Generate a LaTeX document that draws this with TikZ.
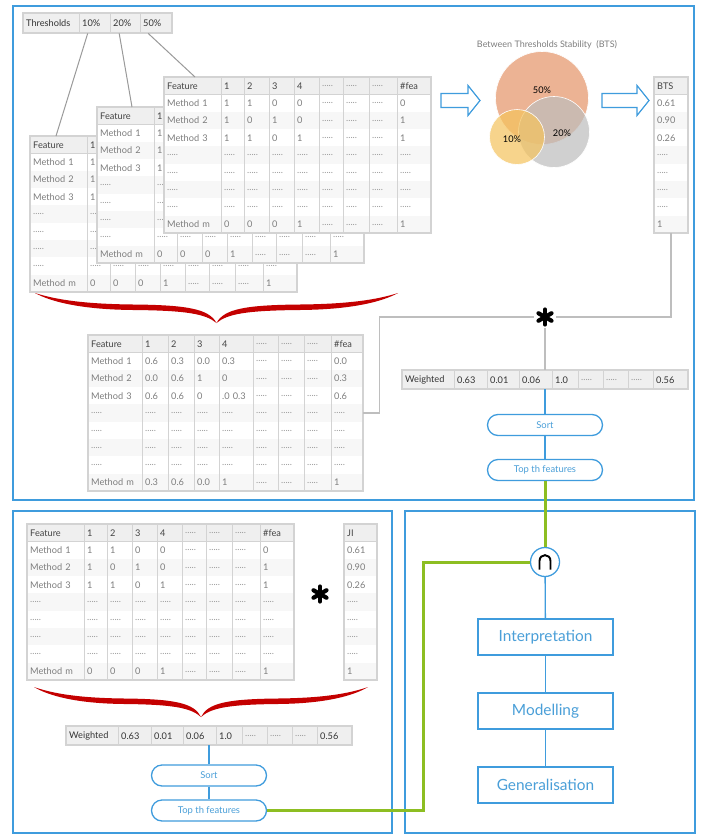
\documentclass[tikz,border=0pt]{standalone}
\usepackage{fontspec}
\setmainfont{Lato}
\usetikzlibrary{calc}
\definecolor{frameblue}{HTML}{3F9CDD}
\definecolor{txtblue}{HTML}{4A9FD8}
\definecolor{gridc}{HTML}{D3D3D3}
\definecolor{hdrfill}{HTML}{EFEFEF}
\definecolor{altfill}{HTML}{F7F7F7}
\definecolor{hdrtext}{HTML}{444444}
\definecolor{bodytext}{HTML}{7E7E7E}
\definecolor{rowtext}{HTML}{333333}
\definecolor{dotgray}{HTML}{9A9A9A}
\definecolor{linkgray}{HTML}{BEBEBE}
\definecolor{thrgray}{HTML}{9A9A9A}
\definecolor{grn}{HTML}{8DBE22}
\definecolor{bracered}{HTML}{C40000}
\definecolor{venno}{HTML}{E8A07A}
\definecolor{venng}{HTML}{BDBDBD}
\definecolor{venny}{HTML}{F5C35C}
\def\rowh{17.33}
\newcommand\mytabfont{\fontsize{9.2}{10}\selectfont}
\protected\def\mydots{{\color{dotgray}.....}}

% table with header row + body rows; #8 = 1 if cells in rows 1-7, cols >= 3 are hidden by a table drawn over it
\newcommand\mktable[8]{%
  \pgfmathsetmacro\tw{{#4}[#5]}%
  \pgfmathsetmacro\tht{#6*\rowh}%
  \node[anchor=north west, fill=white, inner sep=0pt, outer sep=0pt, minimum width=\tw pt, minimum height=\tht pt] (#1) at (#2,#3) {};
  \fill[hdrfill] (#1.north west) rectangle ++(\tw,\rowh);
  \foreach \r in {3,5,...,#6} {\fill[altfill] ($(#1.north west)+(0,{(\r-1)*\rowh})$) rectangle ++(\tw,\rowh);}
  \pgfmathtruncatemacro\tlast{#5-1}%
  \ifnum\tlast>0
    \foreach \c in {1,...,\tlast} {\pgfmathsetmacro\xc{{#4}[\c]}\draw[gridc, line width=1pt] ($(#1.north west)+(\xc,0)$) -- ++(0,\tht);}
  \fi
  \draw[gridc, line width=1pt] ($(#1.north west)+(0,\rowh)$) -- ++(\tw,0);
  \draw[gridc, line width=1.2pt] (#1.north west) rectangle (#1.south east);
  \foreach \row [count=\ri] in {#7} {
    \foreach \cell [count=\ci] in \row {
      \pgfmathsetmacro\xa{{#4}[\ci-1]}%
      \pgfmathsetmacro\xb{{#4}[\ci]}%
      \pgfmathsetmacro\cw{\xb-\xa-6}%
      \ifnum\ri=1 \def\tc{hdrtext}\else\def\tc{bodytext}\fi
      \def\showcell{1}%
      \ifnum#8=1 \ifnum\ri<8 \ifnum\ci>2 \def\showcell{0}\fi\fi\fi
      \ifnum\showcell=1
        \node[cell, text=\tc, text width=\cw pt] (#1-\ri-\ci) at ($(#1.north west)+({\xa},{(\ri-1)*\rowh})$) {\cell};
      \fi
    }
  }
}
% single row
\newcommand\mkrow[7]{%
  \pgfmathsetmacro\tw{{#4}[#5]}%
  \node[anchor=north west, fill=hdrfill, inner sep=0pt, outer sep=0pt, minimum width=\tw pt, minimum height=#6pt] (#1) at (#2,#3) {};
  \pgfmathtruncatemacro\tlast{#5-1}%
  \foreach \c in {1,...,\tlast} {\pgfmathsetmacro\xc{{#4}[\c]}\draw[gridc, line width=1pt] ($(#1.north west)+(\xc,0)$) -- ++(0,#6);}
  \draw[gridc, line width=1.2pt] (#1.north west) rectangle (#1.south east);
  \foreach \cell [count=\ci] in {#7} {
    \pgfmathsetmacro\xa{{#4}[\ci-1]}%
    \pgfmathsetmacro\xb{{#4}[\ci]}%
    \pgfmathsetmacro\cw{\xb-\xa-6}%
    \node[cell, minimum height=#6pt, text=rowtext, text width=\cw pt] (#1-\ci) at ($(#1.north west)+({\xa},0)$) {\cell};
  }
}
\newcommand\bintable[4]{%
  \mktable{#1}{#2}{#3}{0,57,80,105,130,155,179,205,233,267}{9}{9}{%
    {Feature,1,2,3,4,\mydots,\mydots,\mydots,\#fea},
    {Method 1,1,1,0,0,\mydots,\mydots,\mydots,0},
    {Method 2,1,0,1,0,\mydots,\mydots,\mydots,1},
    {Method 3,1,1,0,1,\mydots,\mydots,\mydots,1},
    {\mydots,\mydots,\mydots,\mydots,\mydots,\mydots,\mydots,\mydots,\mydots},
    {\mydots,\mydots,\mydots,\mydots,\mydots,\mydots,\mydots,\mydots,\mydots},
    {\mydots,\mydots,\mydots,\mydots,\mydots,\mydots,\mydots,\mydots,\mydots},
    {\mydots,\mydots,\mydots,\mydots,\mydots,\mydots,\mydots,\mydots,\mydots},
    {Method m,0,0,0,1,\mydots,\mydots,\mydots,1}}{#4}}
\newcommand\scoretable[5]{%
  \mktable{#1}{#2}{#3}{0,#4}{1}{9}{{#5},{0.61},{0.90},{0.26},{\mydots},{\mydots},{\mydots},{\mydots},{1}}{0}}
\newcommand\redbrace[3]{%
  \pgfmathsetmacro\bw{#2-#1}%
  \begin{scope}[shift={(#1,#3)}, x=\bw pt]
    \fill[bracered] (0,0) .. controls (0.06,7) and (0.14,11) .. (0.27,11.5)
      .. controls (0.42,12) and (0.48,16) .. (0.5,30)
      .. controls (0.47,21) and (0.42,17.5) .. (0.27,17)
      .. controls (0.12,16.5) and (0.04,8) .. (0,0) -- cycle;
    \fill[bracered] (1,0) .. controls (0.94,7) and (0.86,11) .. (0.73,11.5)
      .. controls (0.58,12) and (0.52,16) .. (0.5,30)
      .. controls (0.53,21) and (0.58,17.5) .. (0.73,17)
      .. controls (0.88,16.5) and (0.96,8) .. (1,0) -- cycle;
  \end{scope}}
\newcommand\astdraw[1]{%
  \foreach \a in {90,30,150} {\draw[black, line width=4.2pt, line cap=round] ($(#1)+(\a:7.5)$) -- ($(#1)+(\a+180:7.5)$);}}
\newcommand\blockarrow[3]{%
  \draw[frameblue, line width=1.2pt, fill=white] (#1,#3-7) -- (#2-12,#3-7) -- (#2-12,#3-15) -- (#2,#3) -- (#2-12,#3+15) -- (#2-12,#3+7) -- (#1,#3+7) -- cycle;}

\begin{document}
\begin{tikzpicture}[x=1pt,y=-1pt,
  cell/.style={anchor=north west, inner xsep=3pt, inner ysep=0pt, minimum height=\rowh pt, align=left, font=\mytabfont},
  frame/.style={draw=frameblue, line width=1.5pt},
  pill/.style={draw=frameblue, line width=1.3pt, fill=white, rounded corners=10.5pt, minimum width=115pt, minimum height=21pt, inner sep=0pt, text=txtblue, font=\fontsize{9.4}{10}\selectfont},
  stagebox/.style={draw=frameblue, line width=1.2pt, fill=white, minimum width=135pt, minimum height=36pt, inner sep=0pt, text=txtblue, font=\fontsize{15.4}{17}\selectfont},
  blueline/.style={draw=frameblue, line width=1.3pt},
  greenline/.style={draw=grn, line width=3pt},
  graylink/.style={draw=linkgray, line width=1.4pt},
  thrline/.style={draw=thrgray, line width=1pt},
  vlab/.style={font=\fontsize{9.2}{10}\selectfont, text=black, inner sep=0pt},
  astnode/.style={circle, minimum size=22pt, inner sep=0pt}]
\useasboundingbox (0,0) rectangle (703,835);
\fill[white] (0,0) rectangle (703,835);

% frames
\draw[frame] (13,6) rectangle (694,500);
\draw[frame] (13,511) rectangle (392,833);
\draw[frame] (405,511) rectangle (695,833);

% thresholds
\mkrow{thr}{23}{13}{0,56,87,117,149}{4}{20}{Thresholds,10\%,20\%,50\%}

% stacked tables
\bintable{tA}{30}{136}{1}
\bintable{tB}{97}{107}{1}
\bintable{tC}{164}{77}{0}

\coordinate (aIn) at (56,136);
\coordinate (bIn) at (132,107);
\coordinate (cIn) at (195,77);
\draw[thrline] ($(thr-2.south)+(-7,0)$) -- (aIn);
\draw[thrline] ($(thr-3.south)+(-6,0)$) -- (bIn);
\draw[thrline] ($(thr-4.south)+(-8,0)$) -- (cIn);

% arrows and venn
\blockarrow{441}{480}{100.5}
\blockarrow{602}{649}{100.5}
\node[font=\fontsize{9}{10}\selectfont, text=bodytext] (vtitle) at (547,45) {Between Thresholds Stability\ \ (BTS)};
\fill[venno, fill opacity=0.8, draw=white, line width=0.6pt] (542,98) circle (46.5);
\fill[venng, fill opacity=0.7, draw=white, line width=0.6pt] (554,132) circle (35.5);
\fill[venny, fill opacity=0.7, draw=white, line width=0.6pt] (517,137) circle (27.5);
\node[vlab] (v50) at (542,90) {50\%};
\node[vlab] (v20) at (562,133) {20\%};
\node[vlab] (v10) at (512,139) {10\%};

\scoretable{tBTS}{654}{77}{34}{BTS}

% brace and weighted table
\redbrace{35}{398}{293}
\mktable{tD}{88}{335}{0,54,80,106,131,165,190,216,243,275}{9}{9}{%
    {Feature,1,2,3,4,\mydots,\mydots,\mydots,\#fea},
    {Method 1,0.6,0.3,0.0,0.3,\mydots,\mydots,\mydots,0.0},
    {Method 2,0.0,0.6,1,0,\mydots,\mydots,\mydots,0.3},
    {Method 3,0.6,0.6,0,.0 0.3,\mydots,\mydots,\mydots,0.6},
    {\mydots,\mydots,\mydots,\mydots,\mydots,\mydots,\mydots,\mydots,\mydots},
    {\mydots,\mydots,\mydots,\mydots,\mydots,\mydots,\mydots,\mydots,\mydots},
    {\mydots,\mydots,\mydots,\mydots,\mydots,\mydots,\mydots,\mydots,\mydots},
    {\mydots,\mydots,\mydots,\mydots,\mydots,\mydots,\mydots,\mydots,\mydots},
    {Method m,0.3,0.6,0.0,1,\mydots,\mydots,\mydots,1}}{0}

% top right flow
\node[astnode] (ast1) at (545,317) {};
\astdraw{ast1}
\mkrow{W1}{402}{370}{0,52,85,117,150,176,201,226,251,286}{9}{19}{Weighted,0.63,0.01,0.06,1.0,\mydots,\mydots,\mydots,0.56}
\draw[graylink] (tD-5-9.east) -- ++(16,0) |- (ast1);
\draw[graylink] (tBTS.south) |- (ast1);
\draw[graylink] (ast1) -- (W1);
\node[pill] (sort1) at (545,425) {Sort};
\node[pill] (top1) at (545,470) {Top th features};
\draw[blueline] (W1) -- (sort1);
\draw[blueline] (sort1) -- (top1);

% bottom left
\bintable{tE}{27}{524}{0}
\scoretable{tJI}{344}{524}{33}{JI}
\node[astnode] (ast2) at (320,594) {};
\astdraw{ast2}
\redbrace{34}{368}{687}
\mkrow{W2}{66}{726}{0,52,85,117,150,176,201,226,251,286}{9}{19}{Weighted,0.63,0.01,0.06,1.0,\mydots,\mydots,\mydots,0.56}
\node[pill] (sort2) at (209,775.5) {Sort};
\node[pill] (top2) at (209,810.5) {Top th features};
\draw[blueline] (W2) -- (sort2);
\draw[blueline] (sort2) -- (top2);

% bottom right
\node[circle, draw=frameblue, line width=1.3pt, fill=white, minimum size=29pt, inner sep=0pt] (cap) at (545,562) {};
\draw[black, line width=1.9pt] ($(cap)+(-5.5,7.5)$) -- ($(cap)+(-5.5,-1)$) .. controls ($(cap)+(-5.5,-8.8)$) and ($(cap)+(5.5,-8.8)$) .. ($(cap)+(5.5,-1)$) -- ($(cap)+(5.5,7.5)$);
\node[stagebox] (interp) at (545.5,637) {Interpretation};
\node[stagebox] (model) at (545.5,711) {Modelling};
\node[stagebox] (gen) at (545.5,785) {Generalisation};
\draw[blueline] (cap) -- (interp);
\draw[blueline] (interp) -- (model);
\draw[blueline] (model) -- (gen);

% green links
\draw[greenline] (top1) -- (cap);
\draw[greenline] (cap.west) -- ++(-106,0) |- (top2.east);
\end{tikzpicture}
\end{document}
